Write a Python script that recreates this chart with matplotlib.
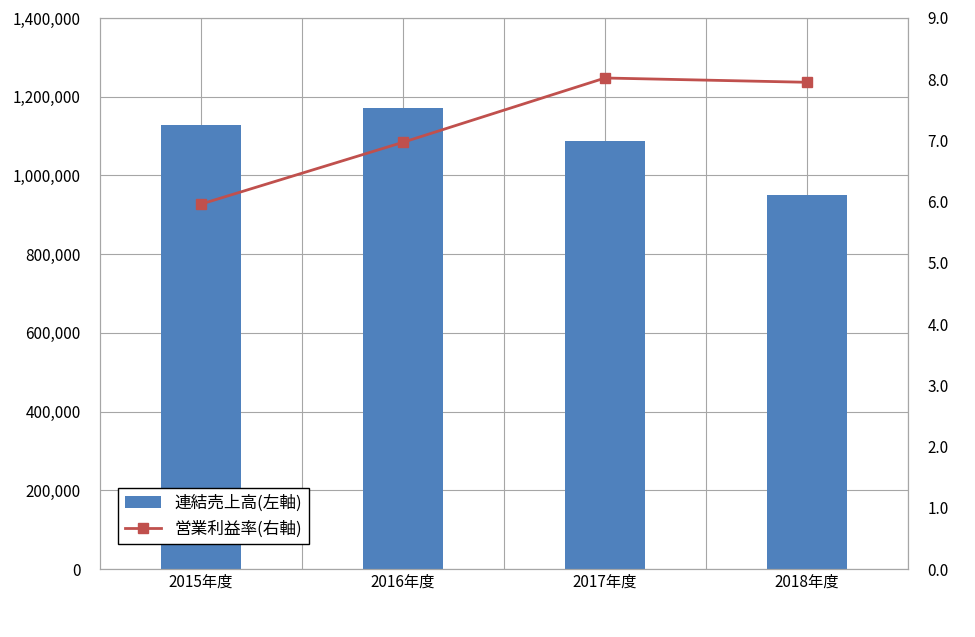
import matplotlib
matplotlib.use("Agg")
import matplotlib.pyplot as plt
import numpy as np
from matplotlib.ticker import FuncFormatter, MultipleLocator

plt.rcParams['font.family'] = ['Noto Sans CJK JP', 'DejaVu Sans']

categories = ["2015年度", "2016年度", "2017年度", "2018年度"]
sales = [1128000, 1171000, 1087000, 950000]
margin = [5.96, 6.97, 8.02, 7.95]

fig = plt.figure(figsize=(9.75, 6.37), dpi=100)
ax = fig.add_axes([100/975, 1-569/637, 808/975, 551/637])
x = np.arange(len(categories))
ax.set_xlim(-0.5, len(categories)-0.5)
ax.set_ylim(0, 1400000)
for v in np.arange(0, len(categories), 0.5):
    ax.axvline(v, color='#a6a6a6', lw=0.8, zorder=0)
ax.yaxis.set_major_locator(MultipleLocator(200000))
ax.grid(axis='y', color='#a6a6a6', lw=0.8, zorder=0)
ax.set_axisbelow(True)
b = ax.bar(x, sales, width=0.4, color='#4f81bd', zorder=2, label='連結売上高(左軸)')
ax.yaxis.set_major_formatter(FuncFormatter(lambda v, p: f"{int(v):,}"))
ax.set_xticks(x)
ax.set_xticklabels(categories)
ax.tick_params(length=0, labelsize=11)
ax.tick_params(axis='y', pad=14)
for s in ax.spines.values():
    s.set_color('#a6a6a6')

ax2 = ax.twinx()
ax2.set_ylim(0, 9)
ax2.yaxis.set_major_locator(MultipleLocator(1))
ax2.yaxis.set_major_formatter(FuncFormatter(lambda v, p: f"{v:.1f}"))
ax2.tick_params(length=0, labelsize=11, pad=14)
l, = ax2.plot(x, margin, color='#c0504d', lw=2, marker='s', ms=7, zorder=3, label='営業利益率(右軸)')
for s in ax2.spines.values():
    s.set_color('#a6a6a6')

leg = ax.legend(handles=[b, l], loc='lower left', bbox_to_anchor=(0.012, 0.03),
                fontsize=12, frameon=True, fancybox=False, edgecolor='black',
                framealpha=1, borderpad=0.4, handlelength=2.2)
leg.get_frame().set_linewidth(1)
leg.set_zorder(10)
ax.set_zorder(ax2.get_zorder()+1)
ax.patch.set_visible(False)
# redraw line on top via ax2 below ax: put legend on ax2 instead
leg.remove()
ax.set_zorder(0); ax2.set_zorder(1)
leg = ax2.legend(handles=[b, l], loc='lower left', bbox_to_anchor=(0.012, 0.03),
                fontsize=12, frameon=True, fancybox=False, edgecolor='black',
                framealpha=1, borderpad=0.4, handlelength=2.2)
leg.get_frame().set_linewidth(1)
fig.savefig("out.png", dpi=100)
